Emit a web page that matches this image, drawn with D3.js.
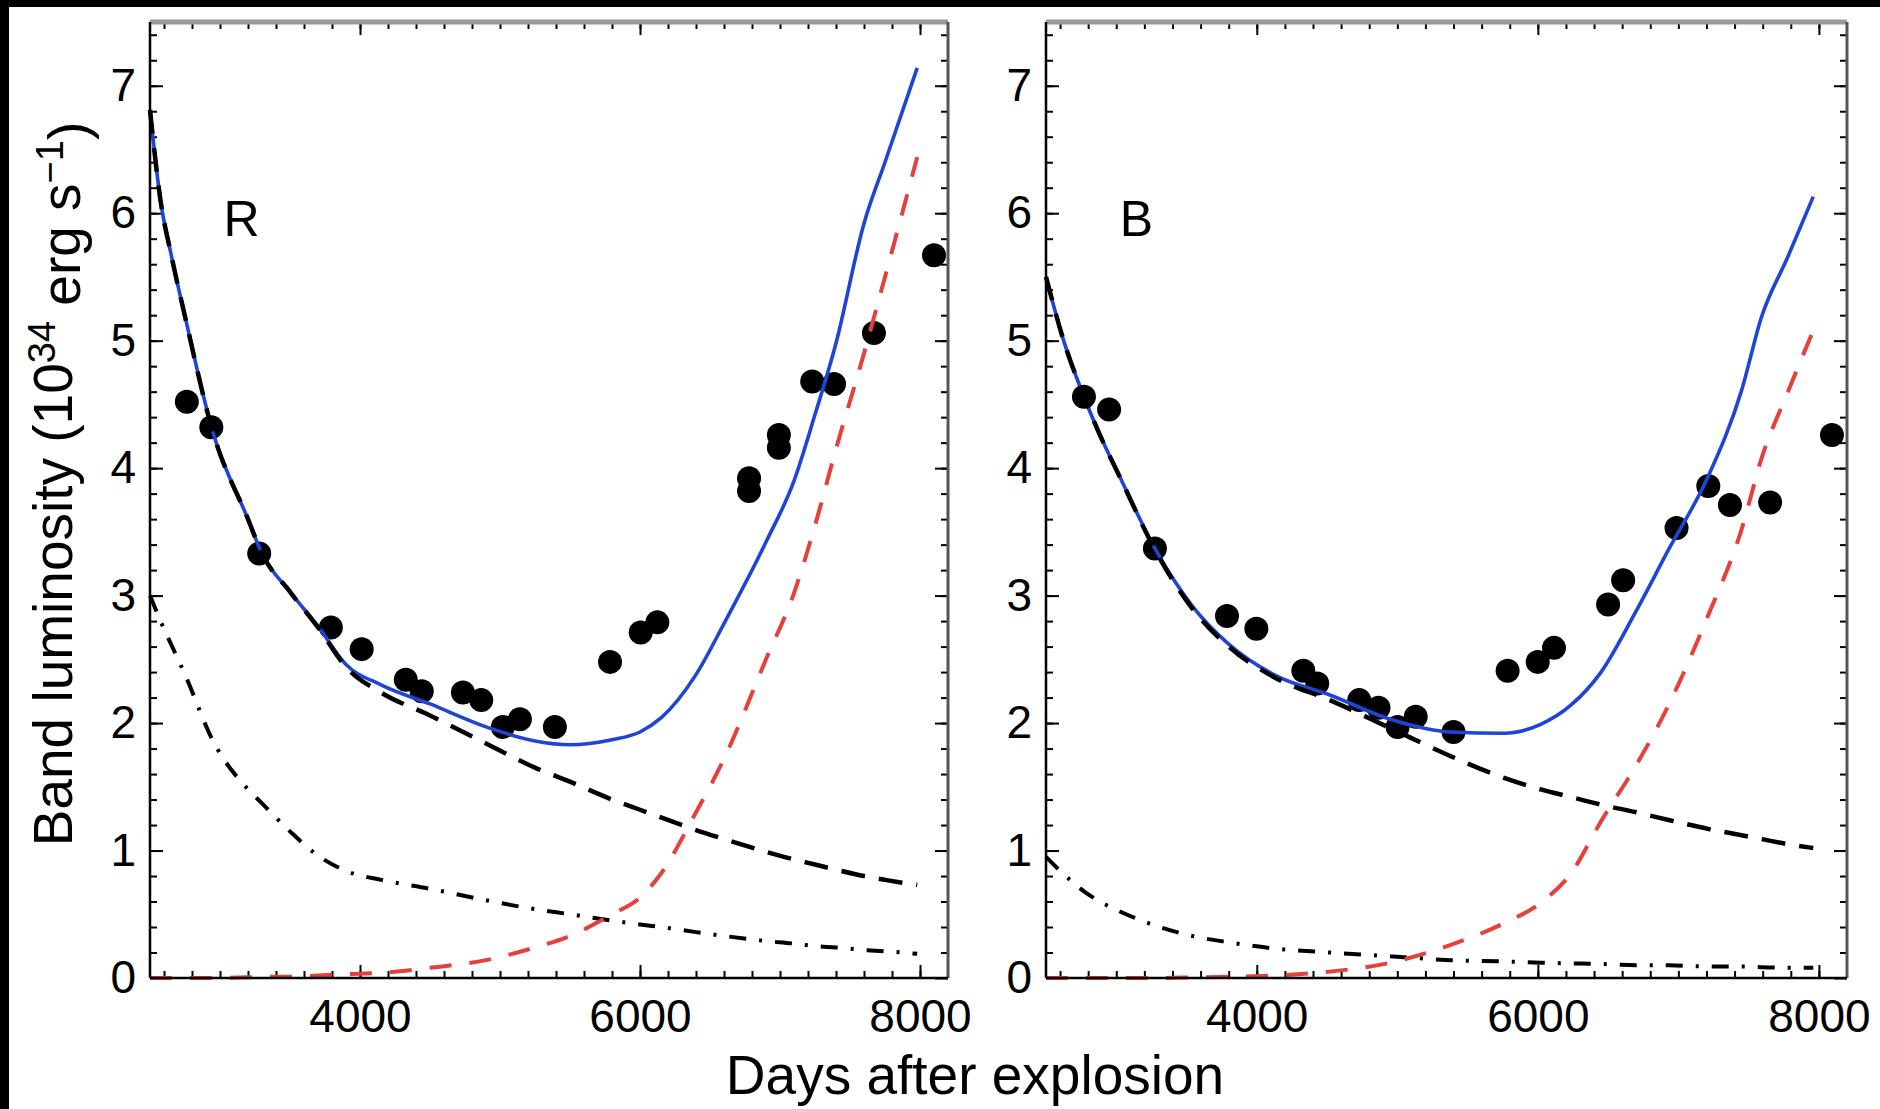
<!DOCTYPE html>
<html>
<head>
<meta charset="UTF-8">
<title>Band luminosity</title>
<script src="https://d3js.org/d3.v7.min.js"></script>
<style>
  body { margin: 0; background: #fff; }
  svg { display: block; font-family: "Liberation Sans", Arial, sans-serif; }
  .axis path { display: none; }
  .axis line { stroke: #000; stroke-width: 2; }
  .axis text { font-size: 46px; fill: #000; }
</style>
</head>
<body>
<script>
// ---- R band ----
var rDays      = [2500, 2575, 2650, 2750, 2950, 3200, 3300, 3500, 3700, 3900, 4150, 4500, 4900, 5250, 5500, 5800, 6000, 6150, 6400, 6600, 6900, 7100, 7250, 7400, 7600, 7750, 7980];
var rTotal     = [6.81, 6.10, 5.68, 5.19, 4.28, 3.60, 3.33, 3.03, 2.76, 2.46, 2.30, 2.15, 1.97, 1.86, 1.83, 1.87, 1.93, 2.04, 2.38, 2.78, 3.42, 3.90, 4.42, 4.98, 5.92, 6.40, 7.14];
var rEjecta    = [6.81, 6.10, 5.68, 5.19, 4.28, 3.60, 3.33, 3.03, 2.75, 2.44, 2.24, 2.06, 1.84, 1.65, 1.54, 1.40, 1.32, 1.26, 1.16, 1.09, 0.99, 0.93, 0.89, 0.85, 0.80, 0.77, 0.73];
var rRing      = [0, 0, 0, 0, 0, 0.005, 0.01, 0.01, 0.02, 0.03, 0.04, 0.08, 0.14, 0.24, 0.33, 0.50, 0.63, 0.82, 1.30, 1.72, 2.50, 3.02, 3.55, 4.15, 4.90, 5.50, 6.44];
var rOther     = [3.00, 2.80, 2.62, 2.38, 1.86, 1.48, 1.37, 1.15, 0.96, 0.84, 0.77, 0.70, 0.61, 0.54, 0.50, 0.45, 0.42, 0.40, 0.36, 0.33, 0.29, 0.27, 0.25, 0.24, 0.22, 0.21, 0.19];
var rObsDays   = [2763, 2938, 3280, 3792, 4012, 4327, 4441, 4735, 4866, 5020, 5142, 5392, 5786, 6005, 6124, 6779, 6779, 6992, 6992, 7230, 7386, 7671, 8100];
var rObsLum    = [4.52, 4.32, 3.33, 2.75, 2.58, 2.34, 2.25, 2.24, 2.18, 1.97, 2.03, 1.97, 2.48, 2.71, 2.79, 3.92, 3.82, 4.26, 4.16, 4.68, 4.66, 5.06, 5.67];

// ---- B band ----
var bDays      = [2500, 2620, 2770, 2900, 3030, 3280, 3540, 3800, 4140, 4520, 4950, 5380, 5760, 6020, 6235, 6450, 6700, 6930, 7210, 7450, 7590, 7780, 7960];
var bTotal     = [5.50, 5.02, 4.56, 4.22, 3.92, 3.36, 2.92, 2.62, 2.37, 2.22, 2.03, 1.93, 1.92, 1.99, 2.14, 2.40, 2.88, 3.36, 3.93, 4.61, 5.18, 5.66, 6.13];
var bEjecta    = [5.50, 5.02, 4.56, 4.22, 3.92, 3.35, 2.90, 2.60, 2.35, 2.18, 1.96, 1.74, 1.57, 1.48, 1.42, 1.36, 1.30, 1.24, 1.17, 1.12, 1.09, 1.05, 1.02];
var bRing      = [0, 0, 0, 0, 0, 0, 0.005, 0.01, 0.02, 0.05, 0.12, 0.26, 0.43, 0.59, 0.82, 1.23, 1.67, 2.14, 2.84, 3.52, 4.07, 4.60, 5.08];
var bOther     = [0.95, 0.82, 0.68, 0.59, 0.52, 0.41, 0.33, 0.28, 0.23, 0.20, 0.17, 0.14, 0.13, 0.12, 0.115, 0.11, 0.10, 0.10, 0.09, 0.09, 0.085, 0.08, 0.08];
var bObsDays   = [2770, 2949, 3275, 3788, 3997, 4331, 4430, 4729, 4866, 5002, 5131, 5400, 5785, 5999, 6115, 6500, 6607, 6987, 7213, 7367, 7653, 8093];
var bObsLum    = [4.56, 4.46, 3.37, 2.84, 2.74, 2.41, 2.31, 2.18, 2.12, 1.97, 2.05, 1.93, 2.41, 2.48, 2.59, 2.93, 3.12, 3.53, 3.86, 3.71, 3.73, 4.26];

// ---- axes ----
var xDomain = [2500, 8200];
var yDomain = [0, 7.5];
var xTickVals  = [4000, 6000, 8000];
var xMinorVals = d3.range(2600, 8200, 200);
var yTickVals  = [0, 1, 2, 3, 4, 5, 6, 7];
var yMinorVals = d3.range(0.2, 7.5, 0.2);

var W = 1880, H = 1109;
var plotTop = 22, plotBottom = 978;

var svg = d3.select("body").append("svg")
    .attr("width", W)
    .attr("height", H);

svg.append("rect").attr("width", W).attr("height", H).attr("fill", "#fff");
svg.append("rect").attr("width", W).attr("height", 7).attr("fill", "#000");
svg.append("rect").attr("width", 9).attr("height", H).attr("fill", "#000");

function drawPanel(p) {
    var x = d3.scaleLinear().domain(xDomain).range([p.left, p.right]);
    var y = d3.scaleLinear().domain(yDomain).range([plotBottom, plotTop]);
    var g = svg.append("g");

    // minor ticks on all four sides
    g.append("g").attr("class", "axis")
        .attr("transform", "translate(0," + plotBottom + ")")
        .call(d3.axisBottom(x).tickValues(xMinorVals).tickSize(-7).tickFormat(""));
    g.append("g").attr("class", "axis")
        .attr("transform", "translate(0," + plotTop + ")")
        .call(d3.axisTop(x).tickValues(xMinorVals).tickSize(-7).tickFormat(""));
    g.append("g").attr("class", "axis")
        .attr("transform", "translate(" + p.left + ",0)")
        .call(d3.axisLeft(y).tickValues(yMinorVals).tickSize(-7).tickFormat(""));
    g.append("g").attr("class", "axis")
        .attr("transform", "translate(" + p.right + ",0)")
        .call(d3.axisRight(y).tickValues(yMinorVals).tickSize(-7).tickFormat(""));

    // major ticks
    g.append("g").attr("class", "axis")
        .attr("transform", "translate(0," + plotBottom + ")")
        .call(d3.axisBottom(x).tickValues(xTickVals).tickSize(-13).tickPadding(21).tickFormat(d3.format("d")));
    g.append("g").attr("class", "axis")
        .attr("transform", "translate(0," + plotTop + ")")
        .call(d3.axisTop(x).tickValues(xTickVals).tickSize(-13).tickFormat(""));
    g.append("g").attr("class", "axis")
        .attr("transform", "translate(" + p.left + ",0)")
        .call(d3.axisLeft(y).tickValues(yTickVals).tickSize(-13).tickPadding(14).tickFormat(d3.format("d")));
    g.append("g").attr("class", "axis")
        .attr("transform", "translate(" + p.right + ",0)")
        .call(d3.axisRight(y).tickValues(yTickVals).tickSize(-13).tickFormat(""));

    // data points
    g.append("g").selectAll("circle")
        .data(d3.zip(p.obsDays, p.obsLum))
        .enter().append("circle")
        .attr("cx", function (d) { return x(d[0]); })
        .attr("cy", function (d) { return y(d[1]); })
        .attr("r", 12)
        .attr("fill", "#000");

    var line = d3.line()
        .curve(d3.curveMonotoneX)
        .x(function (d) { return x(d[0]); })
        .y(function (d) { return y(d[1]); });

    g.append("path").attr("d", line(d3.zip(p.days, p.total)))
        .attr("fill", "none").attr("stroke", "#1f45d6").attr("stroke-width", 3.6);
    g.append("path").attr("d", line(d3.zip(p.days, p.ejecta)))
        .attr("fill", "none").attr("stroke", "#000").attr("stroke-width", 4.5)
        .attr("stroke-dasharray", "24,14");
    g.append("path").attr("d", line(d3.zip(p.days, p.other)))
        .attr("fill", "none").attr("stroke", "#000").attr("stroke-width", 4)
        .attr("stroke-dasharray", "17,13,3,13");
    g.append("path").attr("d", line(d3.zip(p.days, p.ring)))
        .attr("fill", "none").attr("stroke", "#e5403a").attr("stroke-width", 4)
        .attr("stroke-dasharray", "22,18");

    // frame
    g.append("line").attr("x1", p.left).attr("x2", p.right).attr("y1", plotTop).attr("y2", plotTop)
        .attr("stroke", "#9a9a9a").attr("stroke-width", 5);
    g.append("line").attr("x1", p.right).attr("x2", p.right).attr("y1", plotTop).attr("y2", plotBottom)
        .attr("stroke", "#555").attr("stroke-width", 3);
    g.append("line").attr("x1", p.left).attr("x2", p.left).attr("y1", plotTop).attr("y2", plotBottom)
        .attr("stroke", "#000").attr("stroke-width", 2.5);
    g.append("line").attr("x1", p.left).attr("x2", p.right).attr("y1", plotBottom).attr("y2", plotBottom)
        .attr("stroke", "#000").attr("stroke-width", 2.5);

    // band letter
    g.append("text")
        .attr("x", x(3025)).attr("y", y(5.82))
        .style("font-size", "50px")
        .text(p.band);
}

drawPanel({ band: "R", left: 150, right: 948, days: rDays, total: rTotal, ejecta: rEjecta,
            ring: rRing, other: rOther, obsDays: rObsDays, obsLum: rObsLum });
drawPanel({ band: "B", left: 1046, right: 1847, days: bDays, total: bTotal, ejecta: bEjecta,
            ring: bRing, other: bOther, obsDays: bObsDays, obsLum: bObsLum });

// axis titles
svg.append("text")
    .attr("x", 975).attr("y", 1094)
    .attr("text-anchor", "middle")
    .style("font-size", "55px")
    .text("Days after explosion");

var yl = svg.append("text")
    .attr("transform", "translate(72,484) rotate(-90)")
    .attr("text-anchor", "middle")
    .style("font-size", "55px");
yl.append("tspan").text("Band luminosity (10");
yl.append("tspan").attr("dy", "-0.45em").style("font-size", "38px").text("34");
yl.append("tspan").attr("dy", "0.45em").text(" erg s");
yl.append("tspan").attr("dy", "-0.45em").style("font-size", "38px").text("\u22121");
yl.append("tspan").attr("dy", "0.45em").text(")");
</script>
</body>
</html>
